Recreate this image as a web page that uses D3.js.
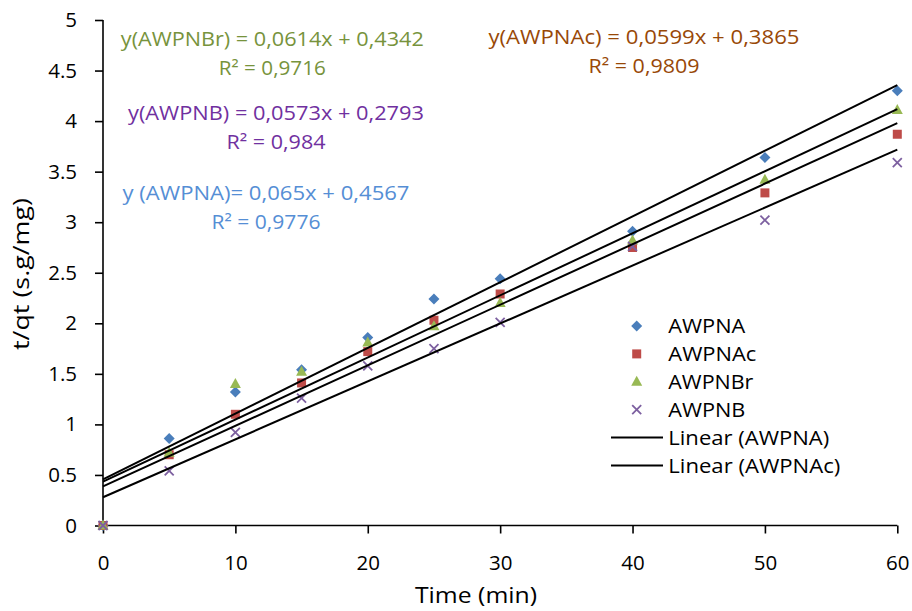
<!DOCTYPE html>
<html><head><meta charset="utf-8">
<script src="https://cdn.jsdelivr.net/npm/d3@7"></script>
<style>body{margin:0;background:#fff}svg{display:block}text{font-family:"Open Sans",sans-serif}</style>
</head><body><svg id="c" width="912" height="611"></svg>
<script>
const times = [0, 5, 10, 15, 20, 25, 30, 40, 50, 60];
const awpna  = [0, 0.86, 1.32, 1.54, 1.86, 2.24, 2.44, 2.91, 3.64, 4.30];
const awpnac = [0, 0.70, 1.10, 1.41, 1.72, 2.03, 2.29, 2.75, 3.29, 3.87];
const awpnbr = [0, 0.72, 1.40, 1.52, 1.81, 1.97, 2.20, 2.82, 3.42, 4.11];
const awpnb  = [0, 0.54, 0.92, 1.26, 1.58, 1.75, 2.01, 2.76, 3.02, 3.59];
const seriesNames = ["AWPNA", "AWPNAc", "AWPNBr", "AWPNB"];
const slopes = [0.065, 0.0599, 0.0614, 0.0573];
const intercepts = [0.4567, 0.3865, 0.4342, 0.2793];
const xTicks = [0, 10, 20, 30, 40, 50, 60];
const yTicks = [0, 0.5, 1, 1.5, 2, 2.5, 3, 3.5, 4, 4.5, 5];
const eqLines = [
  ["y(AWPNBr) = 0,0614x + 0,4342", "R² = 0,9716"],
  ["y(AWPNB) = 0,0573x + 0,2793", "R² = 0,984"],
  ["y (AWPNA)= 0,065x + 0,4567", "R² = 0,9776"],
  ["y(AWPNAc) = 0,0599x + 0,3865", "R² = 0,9809"]
];
const legendLabels = ["AWPNA", "AWPNAc", "AWPNBr", "AWPNB", "Linear (AWPNA)", "Linear (AWPNAc)"];

const colors = ["#4A7EBB", "#BE4B48", "#98B954", "#7D60A0"];
const eqColors = ["#77933C", "#7030A0", "#558ED5", "#984807"];
// [centerX, baseline1, baseline2, width1, width2]
const eqPos = [[272.3, 46, 75, 303, 107], [276, 120, 148.5, 296, 99], [266, 199.5, 228.5, 287, 109], [644, 43.5, 73, 311, 111]];
const legendWidths = [77, 88, 85, 77, 161, 172];

const svg = d3.select("#c");
const x = d3.scaleLinear().domain([0, 60]).range([103, 897.3]);
const y = d3.scaleLinear().domain([0, 5]).range([525.5, 20]);

// axes
const xa = svg.append("g").attr("transform", "translate(0,525.5)")
  .call(d3.axisBottom(x).tickValues(xTicks).tickSize(8).tickPadding(22).tickFormat(d3.format("d")));
const ya = svg.append("g").attr("transform", "translate(103,0)")
  .call(d3.axisLeft(y).tickValues(yTicks).tickSize(8).tickPadding(18).tickFormat(d => String(d)));
[xa, ya].forEach(a => {
  a.select(".domain").attr("stroke", "#000").attr("stroke-width", 1.6);
  a.selectAll(".tick line").attr("stroke", "#000").attr("stroke-width", 1.6);
  a.selectAll(".tick text").attr("font-size", 20.5).attr("fill", "#000").attr("font-family", "'Open Sans', sans-serif");
});
xa.select(".domain").attr("d", `M${x(0)},0H${x(60)}`);
ya.select(".domain").attr("d", `M0,${y(0)}V${y(5)}`);

// markers
const allData = [awpna, awpnac, awpnbr, awpnb];
function drawMarker(g, i, cx, cy) {
  let d;
  if (i === 0) { const s = 5.5; d = `M${cx},${cy-s}L${cx+s},${cy}L${cx},${cy+s}L${cx-s},${cy}Z`; }
  else if (i === 1) { const s = 4.5; d = `M${cx-s},${cy-s}H${cx+s}V${cy+s}H${cx-s}Z`; }
  else if (i === 2) { d = `M${cx},${cy-6}L${cx+5.5},${cy+4}L${cx-5.5},${cy+4}Z`; }
  if (i === 3) {
    const s = 4.5;
    g.append("path").attr("d", `M${cx-s},${cy-s}L${cx+s},${cy+s}M${cx-s},${cy+s}L${cx+s},${cy-s}`)
      .attr("stroke", colors[3]).attr("stroke-width", 1.8).attr("fill", "none");
  } else {
    g.append("path").attr("d", d).attr("fill", colors[i]);
  }
}
const mg = svg.append("g");
allData.forEach((vals, i) => {
  vals.forEach((v, j) => drawMarker(mg, i, x(times[j]), y(v)));
});

// trend lines
slopes.forEach((m, i) => {
  svg.append("line")
    .attr("x1", x(0)).attr("y1", y(intercepts[i]))
    .attr("x2", x(60)).attr("y2", y(intercepts[i] + m * 60))
    .attr("stroke", "#000").attr("stroke-width", 2);
});

// equations
eqLines.forEach((ln, i) => {
  const [cx, y1, y2, w1, w2] = eqPos[i];
  svg.append("text").attr("x", cx).attr("y", y1).attr("text-anchor", "middle")
    .attr("font-size", 19.5).attr("fill", eqColors[i])
    .attr("textLength", w1).attr("lengthAdjust", "spacingAndGlyphs").text(ln[0]);
  svg.append("text").attr("x", cx).attr("y", y2).attr("text-anchor", "middle")
    .attr("font-size", 19.5).attr("fill", eqColors[i])
    .attr("textLength", w2).attr("lengthAdjust", "spacingAndGlyphs").text(ln[1]);
});

// legend
const lg = svg.append("g");
legendLabels.forEach((t, i) => {
  const ly = 326 + i * 27.9;
  if (i < 4) drawMarker(lg, i, 636.7, ly);
  else lg.append("line").attr("x1", 611).attr("x2", 663).attr("y1", ly).attr("y2", ly)
    .attr("stroke", "#000").attr("stroke-width", 2);
  lg.append("text").attr("x", 668.3).attr("y", ly + 7.3).attr("font-size", 20).attr("fill", "#000")
    .attr("textLength", legendWidths[i]).attr("lengthAdjust", "spacingAndGlyphs").text(t);
});

// axis titles
svg.append("text").attr("x", 476).attr("y", 603).attr("text-anchor", "middle")
  .attr("font-size", 21).attr("fill", "#000")
  .attr("textLength", 122).attr("lengthAdjust", "spacingAndGlyphs").text("Time (min)");
svg.append("text").attr("transform", "translate(29,274) rotate(-90)").attr("text-anchor", "middle")
  .attr("font-size", 21).attr("fill", "#000")
  .attr("textLength", 152).attr("lengthAdjust", "spacingAndGlyphs").text("t/qt (s.g/mg)");
</script></body></html>
